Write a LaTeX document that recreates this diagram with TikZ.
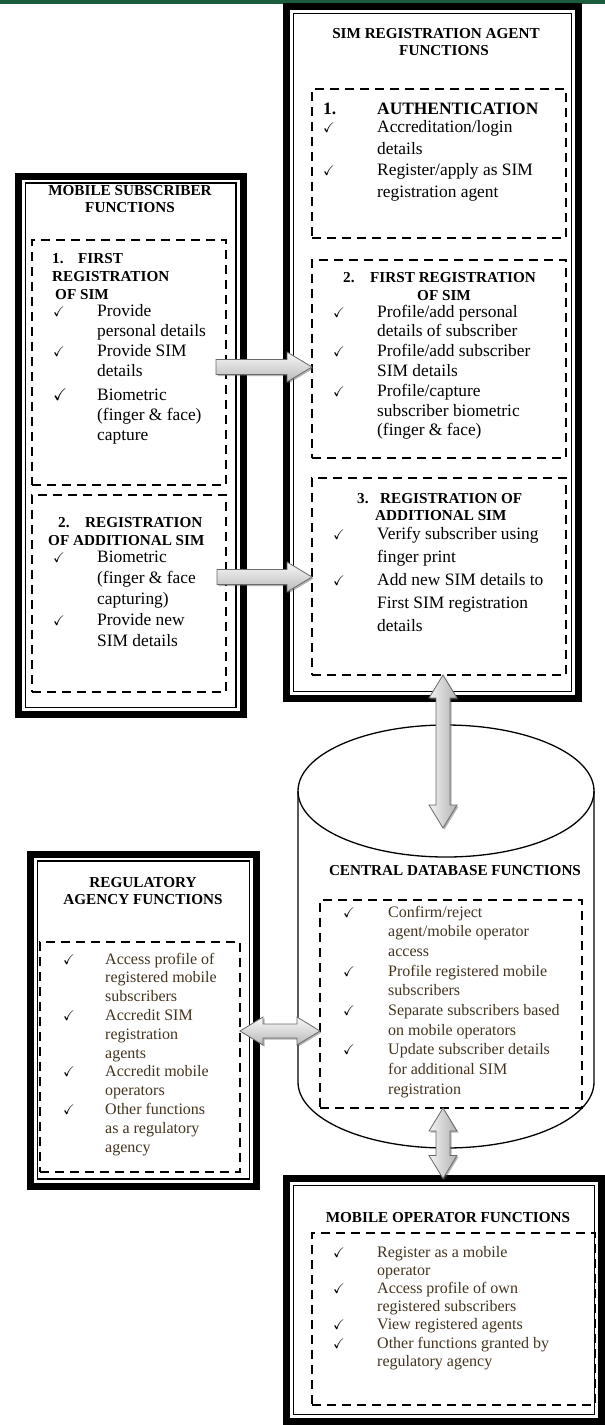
\documentclass[tikz,border=0pt]{standalone}
\usepackage{amssymb}
\usepackage{fontspec}
\setmainfont{Liberation Serif}
\usetikzlibrary{calc,fit,shadows}

\definecolor{topbar}{RGB}{28,92,62}
\definecolor{itembrown}{RGB}{66,52,30}
\definecolor{arrowline}{RGB}{105,105,105}

\newcommand{\fnchk}{\leavevmode{\color{black}\fontsize{14}{14}\selectfont$\checkmark$}}
\newcommand{\fnbigchk}{\leavevmode{\color{black}\fontsize{17}{17}\selectfont$\checkmark$}}

\tikzset{
  funcframe/.style={draw, line width=7pt, inner sep=0pt, outer sep=0pt},
  innerrule/.style={draw, line width=1.4pt},
  dashbox/.style={draw, line width=2.3pt, dash pattern=on 9pt off 6pt, inner sep=0pt, outer sep=0pt},
  boxtitle/.style={font=\fontsize{15.2}{17}\selectfont\bfseries, inner sep=0pt, anchor=base},
  heading/.style={font=\fontsize{15.2}{18}\selectfont\bfseries, inner sep=0pt, anchor=base west},
  items/.style={font=\fontsize{17.4}{20}\selectfont, inner sep=0pt, anchor=base west},
  smallitems/.style={font=\fontsize{16}{18.8}\selectfont, text=itembrown, inner sep=0pt, anchor=base west},
  arrowshadow/.style={drop shadow={shadow xshift=1.5pt, shadow yshift=-1.5pt, opacity=0.45, fill=gray!70!black}},
  hshade/.style={arrowshadow, top color=gray!5, bottom color=gray!55, draw=arrowline, line width=0.8pt},
  vshade/.style={arrowshadow, left color=gray!10, right color=gray!60, draw=arrowline, line width=0.8pt},
  % single fat arrow from start to target
  fatarrow/.style={to path={
    ($(\tikztostart)!7.5pt!90:(\tikztotarget)$)
    -- ($(\tikztotarget)!25pt!(\tikztostart)!7.5pt!90:(\tikztotarget)$)
    -- ($(\tikztotarget)!25pt!(\tikztostart)!15pt!90:(\tikztotarget)$)
    -- (\tikztotarget)
    -- ($(\tikztotarget)!25pt!(\tikztostart)!15pt!-90:(\tikztotarget)$)
    -- ($(\tikztotarget)!25pt!(\tikztostart)!7.5pt!-90:(\tikztotarget)$)
    -- ($(\tikztostart)!7.5pt!-90:(\tikztotarget)$) -- cycle}},
  % fat arrow with two heads
  fatdouble/.style={to path={
    (\tikztostart)
    -- ($(\tikztostart)!23pt!(\tikztotarget)!14pt!90:(\tikztotarget)$)
    -- ($(\tikztostart)!23pt!(\tikztotarget)!7pt!90:(\tikztotarget)$)
    -- ($(\tikztotarget)!23pt!(\tikztostart)!7pt!90:(\tikztotarget)$)
    -- ($(\tikztotarget)!23pt!(\tikztostart)!14pt!90:(\tikztotarget)$)
    -- (\tikztotarget)
    -- ($(\tikztotarget)!23pt!(\tikztostart)!14pt!-90:(\tikztotarget)$)
    -- ($(\tikztotarget)!23pt!(\tikztostart)!7pt!-90:(\tikztotarget)$)
    -- ($(\tikztostart)!23pt!(\tikztotarget)!7pt!-90:(\tikztotarget)$)
    -- ($(\tikztostart)!23pt!(\tikztotarget)!14pt!-90:(\tikztotarget)$)
    -- cycle}}
}

\begin{document}
\begin{tikzpicture}[x=1pt,y=-1pt]
\useasboundingbox (0,0) rectangle (605,1425);
\fill[topbar] (0,0) rectangle (605,3.5);

% framed function boxes
\node[funcframe, fit={(286.5,6.5) (578.5,698.5)}] (agt) {};
\node[funcframe, fit={(18.5,176) (243,714.5)}] (sub) {};
\node[funcframe, fit={(30.5,854) (256.5,1186)}] (reg) {};
\node[funcframe, fit={(286.5,1178.5) (601.5,1421.5)}] (opr) {};
\foreach \f in {agt,sub,reg,opr}
  \draw[innerrule] ([shift={(7,7)}]\f.north west) rectangle ([shift={(-7,-7)}]\f.south east);

% central database cylinder
\draw[line width=1.3pt] (298,791) -- (298,1082)
  arc[start angle=180, end angle=0, x radius=148, y radius=66] -- (594,791);
\draw[line width=1.3pt] (446,791) ellipse [x radius=148, y radius=66];

% dashed groups
\node[dashbox, fit={(312,89) (566,238)}] (agt1) {};
\node[dashbox, fit={(312,260) (566,458)}] (agt2) {};
\node[dashbox, fit={(312,478) (566,675)}] (agt3) {};
\node[dashbox, fit={(32,240) (226,485)}] (sub1) {};
\node[dashbox, fit={(32,495) (226,692)}] (sub2) {};
\node[dashbox, fit={(40,942) (240,1172)}] (reg1) {};
\node[dashbox, fit={(320,900) (582,1108)}] (db1) {};
\node[dashbox, fit={(312,1233) (595,1405)}] (opr1) {};

% titles
\node[boxtitle] (agthead) at (436,38) {\begin{tabular}[t]{@{}c@{}}SIM REGISTRATION AGENT\\\hspace{16pt}FUNCTIONS\end{tabular}};
\node[boxtitle] (subhead) at (130,195) {\begin{tabular}[t]{@{}c@{}}MOBILE SUBSCRIBER\\FUNCTIONS\end{tabular}};
\node[boxtitle] (reghead) at (143,887) {\begin{tabular}[t]{@{}c@{}}REGULATORY\\AGENCY FUNCTIONS\end{tabular}};
\node[boxtitle] (dbhead) at (455,875) {CENTRAL DATABASE FUNCTIONS};
\node[boxtitle] (oprhead) at (448,1222) {MOBILE OPERATOR FUNCTIONS};

% agent box
\node[items, font=\fontsize{17.4}{21.5}\selectfont] (agt1txt) at (323,114) {%
  \begin{tabular}[t]{@{}p{54pt}@{}l@{}}
  \textbf{1.} & \textbf{AUTHENTICATION}\\[-3pt]
  \fnchk & Accreditation/login\\
   & details\\
  \fnchk & Register/apply as SIM\\
   & registration agent
  \end{tabular}};
\node[heading] (agt2head) at (343,282) {\begin{tabular}[t]{@{}l@{}}\makebox[27pt][l]{2.}FIRST REGISTRATION\\\hspace{74pt}OF SIM\end{tabular}};
\node[items, font=\fontsize{17.4}{19.8}\selectfont] (agt2txt) at (333,317) {%
  \begin{tabular}[t]{@{}p{44pt}@{}l@{}}
  \fnchk & Profile/add personal\\
   & details of subscriber\\
  \fnchk & Profile/add subscriber\\
   & SIM details\\
  \fnchk & Profile/capture\\
   & subscriber biometric\\
   & (finger \& face)
  \end{tabular}};
\node[heading, font=\fontsize{15.2}{17}\selectfont\bfseries] (agt3head) at (357,503) {\begin{tabular}[t]{@{}l@{}}\makebox[23pt][l]{3.}REGISTRATION OF\\\hspace{18pt}ADDITIONAL SIM\end{tabular}};
\node[items, font=\fontsize{17.4}{23}\selectfont] (agt3txt) at (333,539) {%
  \begin{tabular}[t]{@{}p{44pt}@{}l@{}}
  \fnchk & Verify subscriber using\\
   & finger print\\
  \fnchk & Add new SIM details to\\
   & First SIM registration\\
   & details
  \end{tabular}};

% subscriber box
\node[heading] (sub1head) at (52,263) {\begin{tabular}[t]{@{}l@{}}\makebox[26pt][l]{1.}FIRST\\REGISTRATION\\\hspace{3pt}OF SIM\end{tabular}};
\node[items] (sub1txt) at (53,316) {%
  \begin{tabular}[t]{@{}p{44pt}@{}l@{}}
  \fnchk & Provide\\
   & personal details\\
  \fnchk & Provide SIM\\
   & details\\[4pt]
  \fnbigchk & Biometric\\
   & (finger \& face)\\
   & capture
  \end{tabular}};
\node[heading] (sub2head) at (48,527) {\begin{tabular}[t]{@{}l@{}}\hspace{10pt}\makebox[27pt][l]{2.}REGISTRATION\\OF ADDITIONAL SIM\end{tabular}};
\node[items, font=\fontsize{17.4}{21}\selectfont] (sub2txt) at (53,562) {%
  \begin{tabular}[t]{@{}p{44pt}@{}l@{}}
  \fnchk & Biometric\\
   & (finger \& face\\
   & capturing)\\
  \fnchk & Provide new\\
   & SIM details
  \end{tabular}};

% regulatory agency
\node[smallitems] (reg1txt) at (63,964) {%
  \begin{tabular}[t]{@{}p{42pt}@{}l@{}}
  \fnchk & Access profile of\\
   & registered mobile\\
   & subscribers\\
  \fnchk & Accredit SIM\\
   & registration\\
   & agents\\
  \fnchk & Accredit mobile\\
   & operators\\
  \fnchk & Other functions\\
   & as a regulatory\\
   & agency
  \end{tabular}};

% central database
\node[smallitems, font=\fontsize{16}{19.7}\selectfont] (db1txt) at (343,917) {%
  \begin{tabular}[t]{@{}p{45pt}@{}l@{}}
  \fnchk & Confirm/reject\\
   & agent/mobile operator\\
   & access\\
  \fnchk & Profile registered mobile\\
   & subscribers\\
  \fnchk & Separate subscribers based\\
   & on mobile operators\\
  \fnchk & Update subscriber details\\
   & for additional SIM\\
   & registration
  \end{tabular}};

% mobile operator
\node[smallitems, font=\fontsize{16}{18.2}\selectfont] (opr1txt) at (333,1257) {%
  \begin{tabular}[t]{@{}p{44pt}@{}l@{}}
  \fnchk & Register as a mobile\\
   & operator\\
  \fnchk & Access profile of own\\
   & registered subscribers\\
  \fnchk & View registered agents\\
  \fnchk & Other functions granted by\\
   & regulatory agency
  \end{tabular}};

% connectors
\coordinate (a1s) at (216,367);
\coordinate (a2s) at (217,577);
\coordinate (dbtop) at (443,828);
\coordinate (a4) at (0,1031);
\coordinate (a5) at (443,0);
\shadedraw[fatarrow, hshade] (a1s) to (a1s -| agt2.west);
\shadedraw[fatarrow, hshade] (a2s) to (a2s -| agt3.west);
\shadedraw[fatdouble, vshade] (dbtop |- agt3.south) to (dbtop);
\shadedraw[fatdouble, hshade] (a4 -| reg1.east) to (a4 -| db1.west);
\shadedraw[fatdouble, vshade] (a5 |- db1.south) to (a5 |- opr.north);
\end{tikzpicture}
\end{document}
